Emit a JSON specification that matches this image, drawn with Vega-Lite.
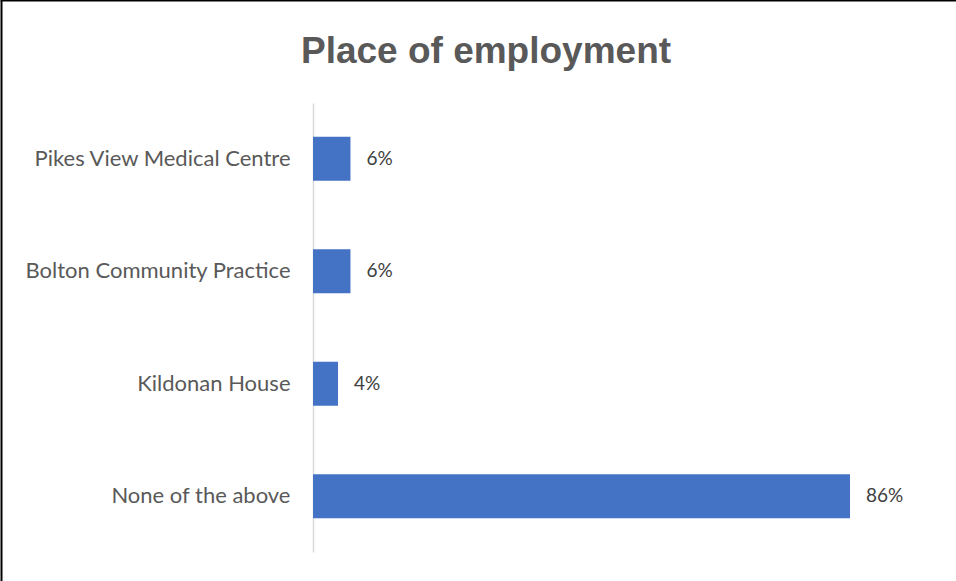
{
  "$schema": "https://vega.github.io/schema/vega-lite/v6.json",
  "autosize": {"type": "fit", "contains": "padding"},
  "width": 956,
  "height": 581,
  "padding": 0,
  "background": "white",
  "title": {
    "text": "Place of employment",
    "anchor": "middle",
    "frame": "group",
    "offset": -100,
    "dx": 8,
    "baseline": "alphabetic",
    "font": "Liberation Sans",
    "fontSize": 37,
    "fontWeight": "bold",
    "color": "#595959"
  },
  "config": {
    "view": {"stroke": null}
  },
  "data": {
    "values": [
      {"place": "Pikes View Medical Centre", "pct": 6, "label": "6%"},
      {"place": "Bolton Community Practice", "pct": 6, "label": "6%"},
      {"place": "Kildonan House", "pct": 4, "label": "4%"},
      {"place": "None of the above", "pct": 86, "label": "86%"}
    ]
  },
  "encoding": {
    "x": {
      "field": "pct",
      "type": "quantitative",
      "scale": {"domain": [-50.13, 102.98], "range": [0, 956], "nice": false, "zero": false},
      "axis": {
        "orient": "top",
        "title": null,
        "labels": false,
        "ticks": false,
        "grid": false,
        "domain": true,
        "domainColor": "black",
        "domainWidth": 2
      }
    }
  },
  "layer": [
    {
      "layer": [
        {"mark": {"type": "bar", "color": "#4472c4"}, "encoding": {"x2": {"datum": 0}}},
        {
          "mark": {"type": "text", "align": "left", "baseline": "middle", "dx": 16, "font": "Lato", "fontSize": 19, "color": "#404040"},
          "encoding": {"text": {"field": "label"}}
        }
      ],
      "encoding": {
        "y": {
          "field": "place",
          "type": "nominal",
          "sort": null,
          "scale": {"range": [103, 552], "paddingInner": 0.61, "paddingOuter": 0.3},
          "axis": {
            "orient": "left",
            "title": null,
            "offset": -313,
            "ticks": false,
            "labelPadding": 23,
            "labelFont": "Lato",
            "labelFontSize": 22,
            "labelColor": "#595959",
            "labelLimit": 400,
            "domainColor": "#d9d9d9",
            "domainWidth": 1.5
          }
        }
      }
    },
    {
      "mark": {"type": "rule", "opacity": 0},
      "encoding": {
        "y": {
          "datum": 0,
          "type": "quantitative",
          "scale": {"domain": [0, 1]},
          "axis": {
            "orient": "left",
            "offset": -1,
            "title": null,
            "labels": false,
            "ticks": false,
            "grid": false,
            "domain": true,
            "domainColor": "black",
            "domainWidth": 2
          }
        }
      }
    }
  ],
  "resolve": {"scale": {"y": "independent"}, "axis": {"y": "independent"}}
}
